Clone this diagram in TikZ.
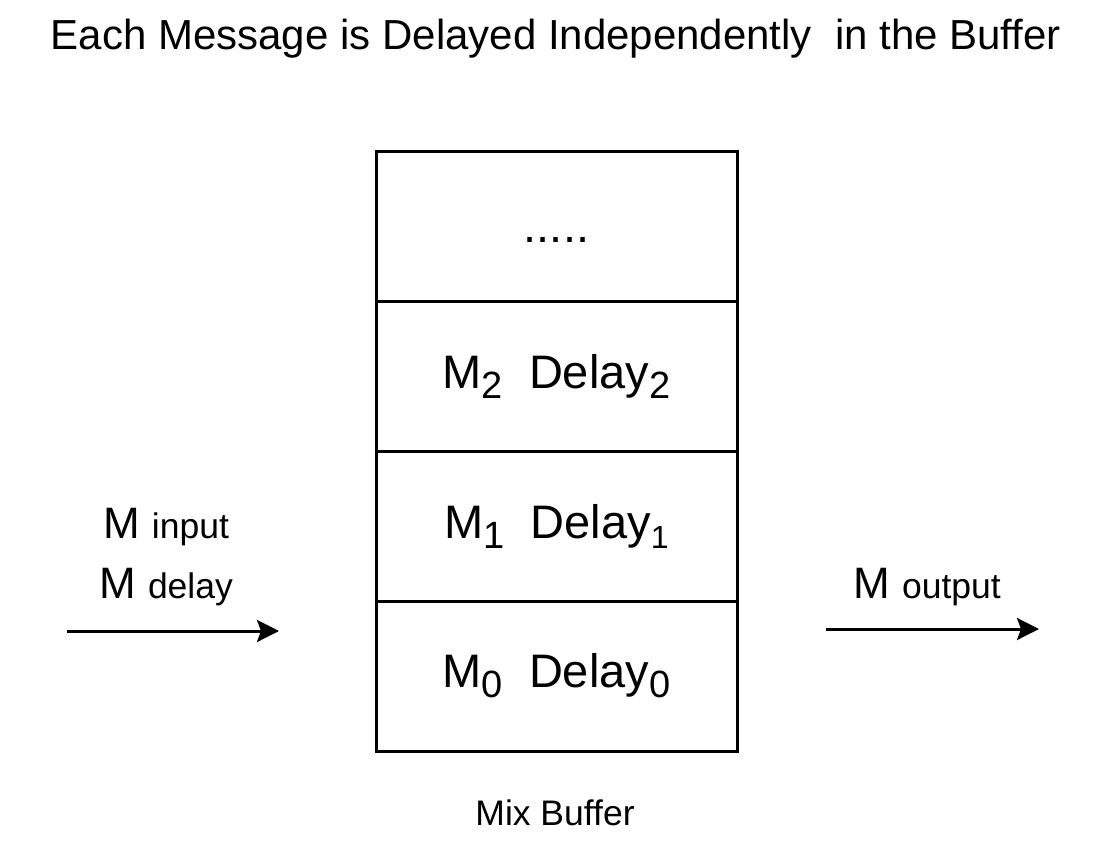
\documentclass[tikz,border=0pt]{standalone}
\usepackage{fontspec}
\setmainfont{Liberation Sans}
\usetikzlibrary{arrows.meta}
\newcommand{\lowsub}[2][38]{\raisebox{-10pt}{\fontsize{#1}{#1}\selectfont #2}}
\tikzset{
  cell/.style={draw, line width=3pt, minimum width=361pt, minimum height=150pt, inner sep=0pt,
    font=\fontsize{47}{52}\selectfont},
  lbl/.style={inner sep=0pt, anchor=base},
  flow/.style={line width=3pt, -{Stealth[length=22pt,width=22pt,inset=4pt]}}
}
\begin{document}
\begin{tikzpicture}[x=1pt,y=-1pt]
\useasboundingbox (0,0) rectangle (1113,843);
\node[lbl, font=\fontsize{42}{48}\selectfont] (title) at (556,49) {Each Message is Delayed Independently \ in the Buffer};
\node[cell] (c3) at (556.5,226) {\vphantom{M}.....};
\node[cell] (c2) at (556.5,376) {M\lowsub{2}\ \ Delay\lowsub{2}};
\node[cell] (c1) at (556.5,526) {M\lowsub{1}\ \ Delay\lowsub[32]{1}};
\node[cell] (c0) at (556.5,676) {M\lowsub{0}\ \ Delay\lowsub{0}};
\node[lbl, font=\fontsize{35.5}{40}\selectfont] (mix) at (555,825) {Mix Buffer};
\node[lbl] (min) at (166,538) {\fontsize{44}{46}\selectfont M \fontsize{35.5}{38}\selectfont input};
\node[lbl] (mdel) at (166,598) {\fontsize{44}{46}\selectfont M \fontsize{35.5}{38}\selectfont delay};
\node[lbl] (mout) at (927,598) {\fontsize{44}{46}\selectfont M \fontsize{35.5}{38}\selectfont output};
\coordinate (a0) at (67,631);
\coordinate (a1) at (279,631);
\coordinate (b0) at (826,629);
\coordinate (b1) at (1039,629);
\draw[flow] (a0) -- (a1);
\draw[flow] (b0) -- (b1);
\end{tikzpicture}
\end{document}
